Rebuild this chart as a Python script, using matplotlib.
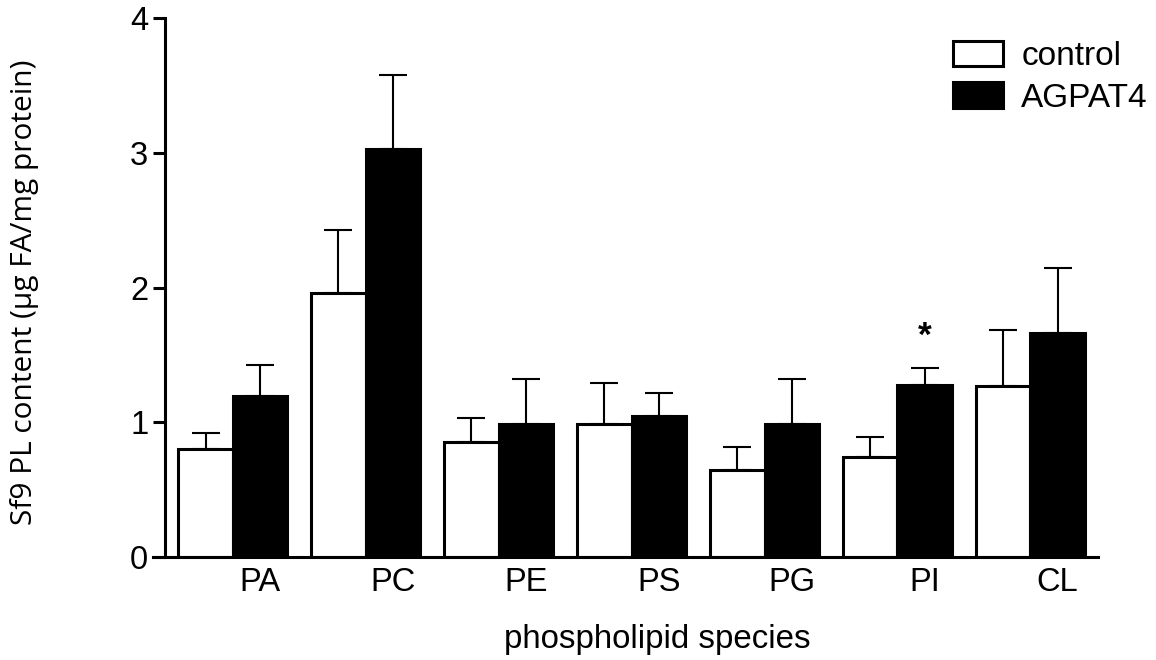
import numpy as np
import matplotlib.pyplot as plt

# data
species = ['PA', 'PC', 'PE', 'PS', 'PG', 'PI', 'CL']
control = [0.80, 1.96, 0.855, 0.99, 0.645, 0.74, 1.27]
control_err = [0.12, 0.47, 0.175, 0.30, 0.175, 0.15, 0.415]
agpat4 = [1.195, 3.03, 0.99, 1.045, 0.99, 1.28, 1.66]
agpat4_err = [0.23, 0.55, 0.33, 0.175, 0.33, 0.12, 0.485]
signif = ['', '', '', '', '', '*', '']

plt.rcParams['font.family'] = ['Liberation Sans', 'DejaVu Sans']

fig = plt.figure(figsize=(11.56, 6.6), dpi=100)
ax = fig.add_axes([0.1427, 0.156, 0.8073, 0.8167])

x = np.arange(len(species))
w = 0.41
lw = 2.2
fs = 23.5
err_kw = dict(elinewidth=1.5, capsize=10.4, capthick=1.5, ecolor='black')

b1 = ax.bar(x - w/2, control, w, color='white', edgecolor='black', linewidth=lw,
            yerr=[np.zeros(len(x)), control_err], error_kw=err_kw, label='control')
b2 = ax.bar(x + w/2, agpat4, w, color='black', edgecolor='black', linewidth=lw,
            yerr=[np.zeros(len(x)), agpat4_err], error_kw=err_kw, label='AGPAT4')

# significance marks
for i, s in enumerate(signif):
    if s:
        ax.text(x[i] + w/2, agpat4[i] + agpat4_err[i] + 0.24, s, ha='center', va='center',
                fontsize=fs + 2, fontweight='bold')

ax.set_xlim(-0.51, 6.51)
ax.set_ylim(0, 4)
ax.set_yticks([0, 1, 2, 3, 4])
ax.set_xticks(x + w/2)
ax.set_xticklabels(species)
ax.tick_params(axis='x', length=0, pad=7, labelsize=fs)
ax.tick_params(axis='y', length=9, width=lw, pad=3, labelsize=fs)

for sp in ['top', 'right']:
    ax.spines[sp].set_visible(False)
for sp in ['left', 'bottom']:
    ax.spines[sp].set_linewidth(lw)
ax.spines['bottom'].set_bounds(-0.60, 6.51)

ax.set_xlabel('phospholipid species', fontsize=fs + 0.3)
ax.xaxis.set_label_coords(0.528, -0.125)
fig.text(25/1156, 1 - 292/660, 'Sf9 PL content (\u03bcg FA/mg protein)', rotation=90,
         ha='center', va='center', fontsize=21.5, family=['Open Sans', 'DejaVu Sans'])

ax.legend(handles=[b1, b2], loc='upper left', bbox_to_anchor=(953/1156, 1 - 41/660),
          bbox_transform=fig.transFigure, frameon=False, fontsize=fs + 0.5,
          handlelength=1.5, handleheight=0.8, handletextpad=0.55, labelspacing=0.3,
          borderpad=0, borderaxespad=0)

fig.savefig('out.png', dpi=100)
